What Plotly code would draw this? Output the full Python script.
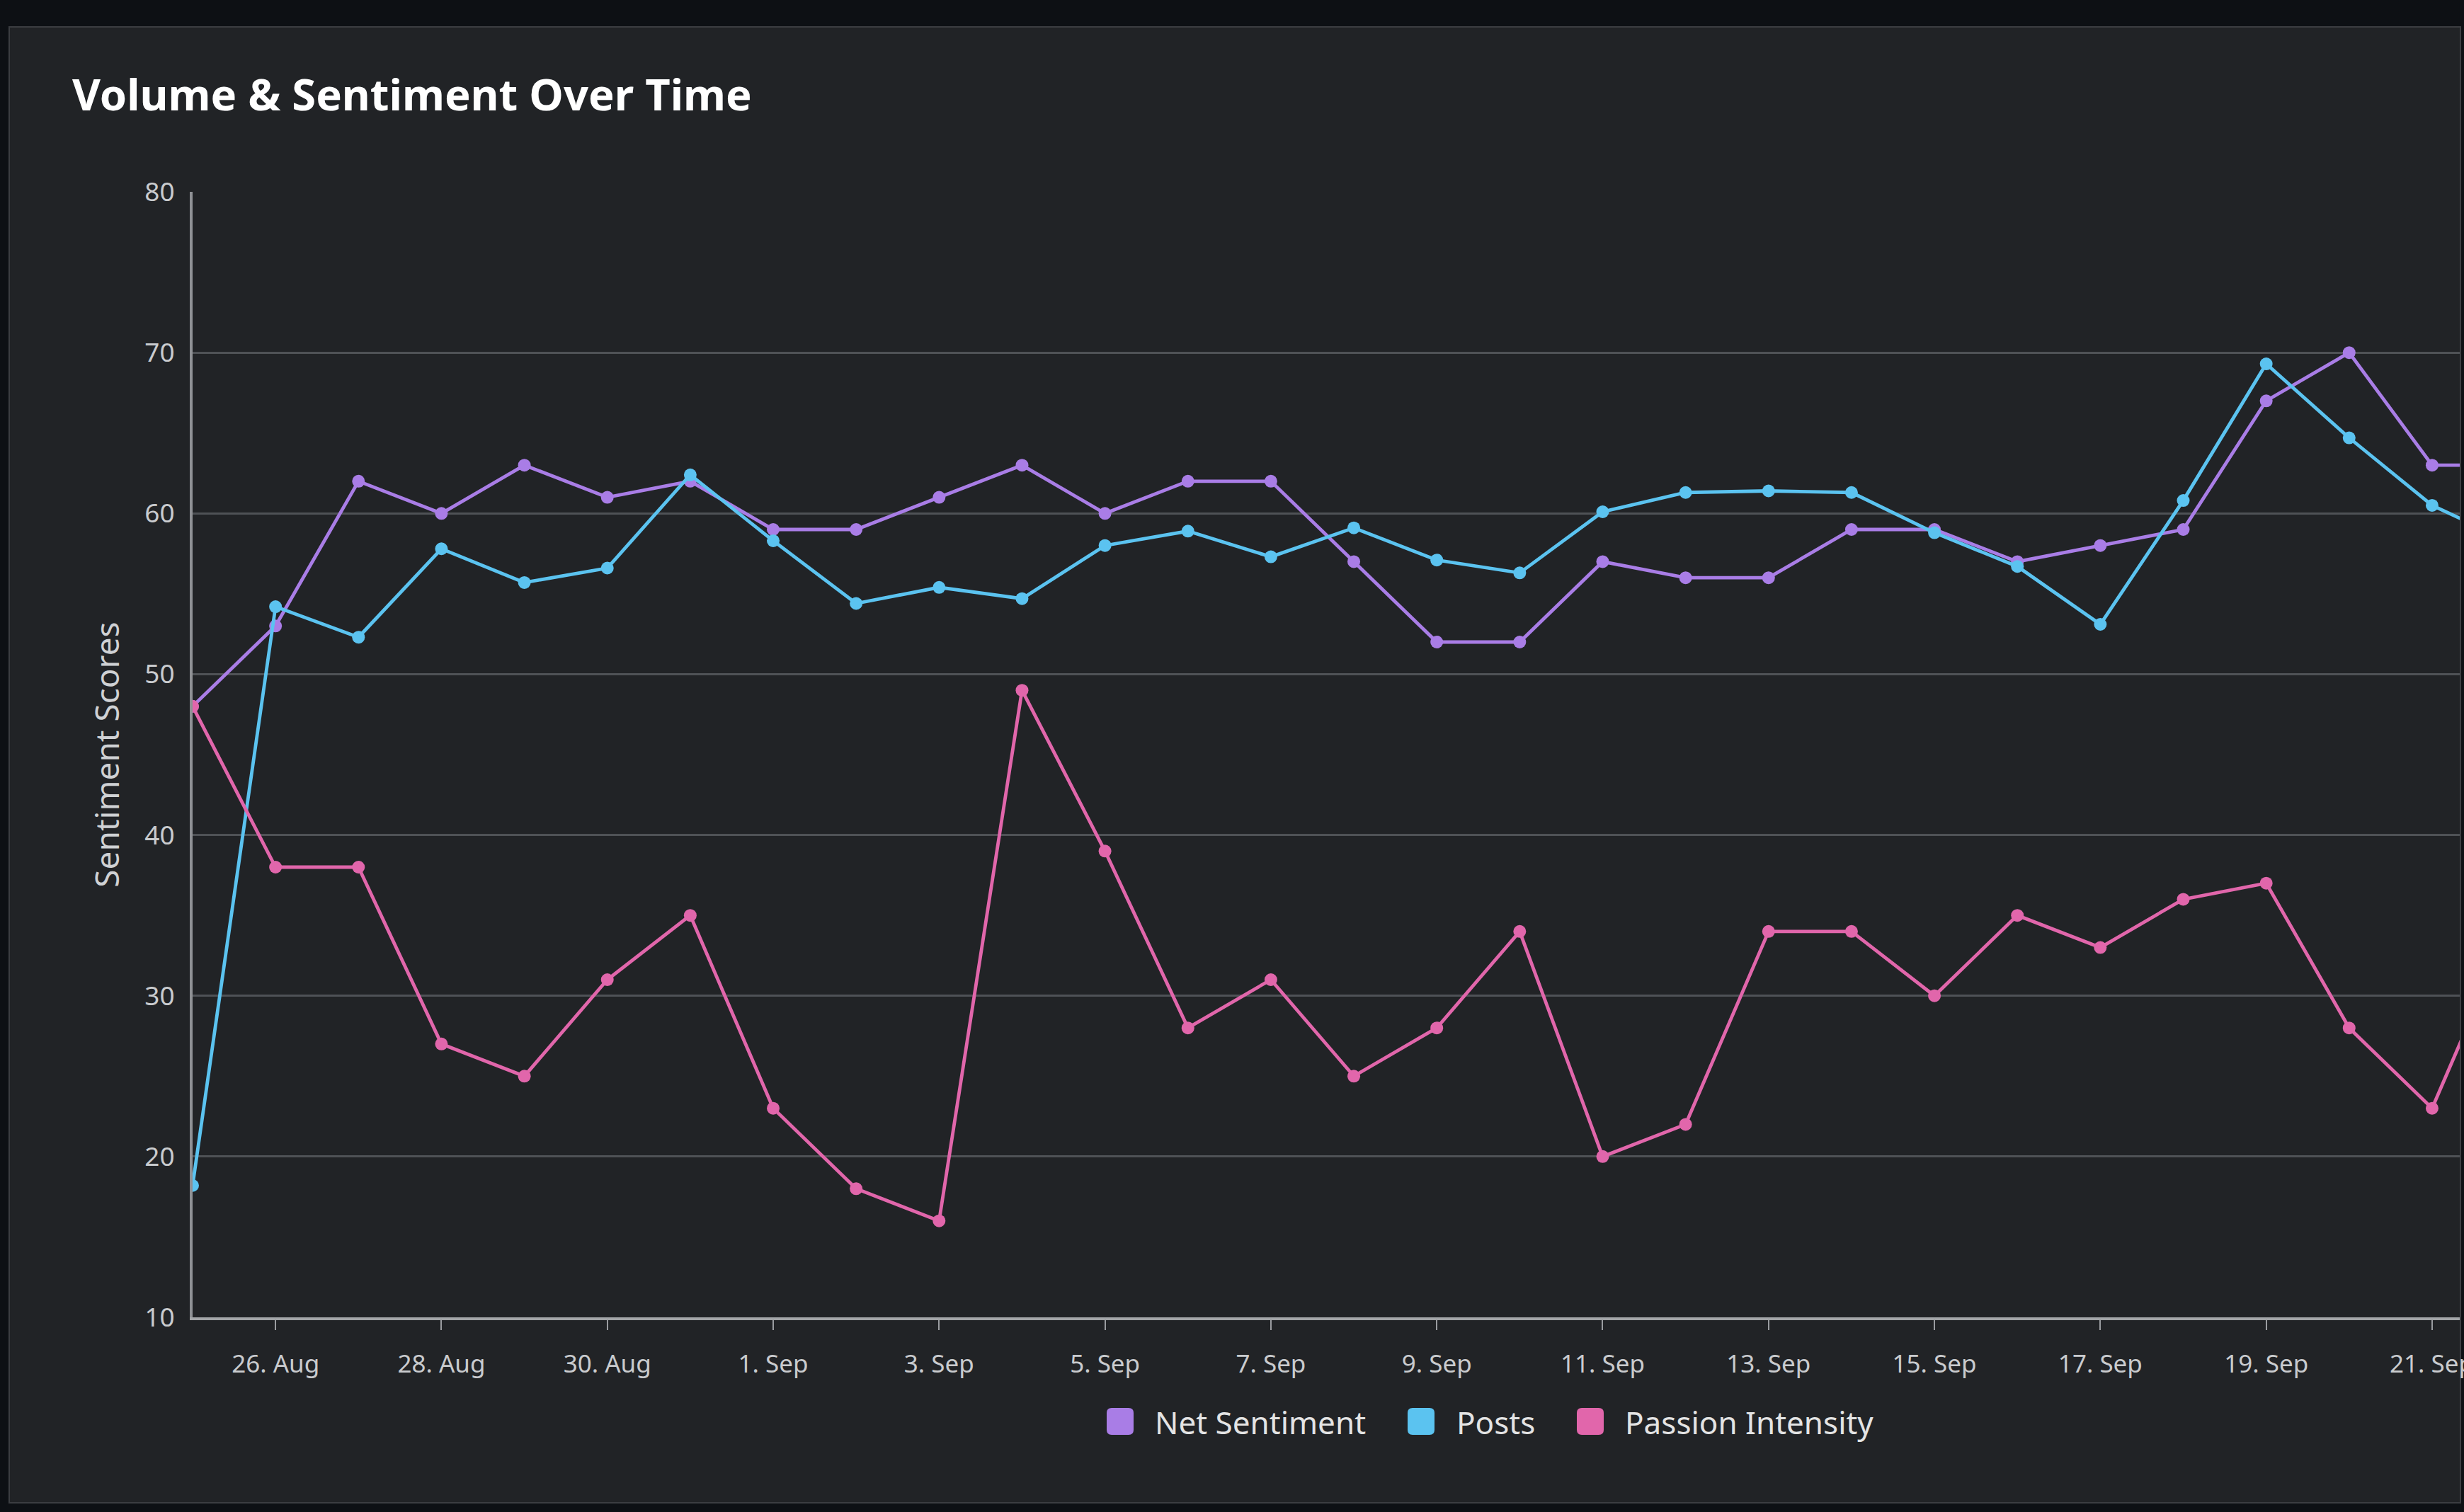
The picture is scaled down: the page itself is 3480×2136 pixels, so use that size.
import plotly.graph_objects as go
import pandas as pd

# ---------------- data ----------------
dates = pd.date_range("2024-08-25", "2024-09-22", freq="D")
net_sentiment = [48, 53, 62, 60, 63, 61, 62,
                 59, 59, 61, 63, 60, 62, 62, 57, 52, 52,
                 57, 56, 56, 59, 59, 57, 58, 59, 67, 70,
                 63, 63]
posts = [18.2, 54.2, 52.3, 57.8, 55.7, 56.6, 62.4,
         58.3, 54.4, 55.4, 54.7, 58.0, 58.9, 57.3, 59.1, 57.1, 56.3,
         60.1, 61.3, 61.4, 61.3, 58.8, 56.7, 53.1, 60.8, 69.3, 64.7,
         60.5, 58.1]
passion_intensity = [48, 38, 38, 27, 25, 31, 35,
                     23, 18, 16, 49, 39, 28, 31, 25, 28, 34,
                     20, 22, 34, 34, 30, 35, 33, 36, 37, 28,
                     23, 35]
series_names = ["Net Sentiment", "Posts", "Passion Intensity"]
series_colors = ["#a97de6", "#5bc3f0", "#e166ab"]
y_ticks = [10, 20, 30, 40, 50, 60, 70, 80]
edge_tick_date = "2024-09-21"      # last x tick, whose label is cut by the card edge
edge_tick_label = "21. Sep"

# ---------------- layout geometry (pixels) ----------------
W, H = 3480, 2136
L, R, T, B = 272, 6, 271, 275
PW, PH = W - L - R, H - T - B
FONT = "Noto Sans"
TICK_FONT = dict(family=FONT, size=35, color="#c9cbce")


def px(xp):
    return (xp - L) / PW


def py(yp):
    return (H - B - yp) / PH


fig = go.Figure()
for name, vals, col in zip(series_names, [net_sentiment, posts, passion_intensity], series_colors):
    fig.add_trace(go.Scatter(
        x=dates, y=vals, name=name, mode="lines+markers",
        line=dict(color=col, width=4.8),
        marker=dict(color=col, size=18),
        showlegend=False, cliponaxis=True,
    ))

shapes = []
# card background
shapes.append(dict(type="rect", xref="paper", yref="paper", layer="below",
                   x0=px(13), x1=px(3475), y0=py(2123), y1=py(38),
                   fillcolor="#212326", line=dict(color="#3b3d41", width=2)))


def rrect(x0, y0, s, r):
    # rounded square given in pixel coords -> paper-coordinate SVG path
    X = lambda v: px(v)
    Y = lambda v: py(v)
    return (f"M{X(x0 + r)},{Y(y0)} L{X(x0 + s - r)},{Y(y0)} Q{X(x0 + s)},{Y(y0)} {X(x0 + s)},{Y(y0 + r)} "
            f"L{X(x0 + s)},{Y(y0 + s - r)} Q{X(x0 + s)},{Y(y0 + s)} {X(x0 + s - r)},{Y(y0 + s)} "
            f"L{X(x0 + r)},{Y(y0 + s)} Q{X(x0)},{Y(y0 + s)} {X(x0)},{Y(y0 + s - r)} "
            f"L{X(x0)},{Y(y0 + r)} Q{X(x0)},{Y(y0)} {X(x0 + r)},{Y(y0)} Z")


legend_sq_x = [1563, 1988, 2227]
legend_tx_x = [1629, 2055, 2293]
legend_cy = 2008
annotations = []
for name, col, sx, tx in zip(series_names, series_colors, legend_sq_x, legend_tx_x):
    shapes.append(dict(type="path", xref="paper", yref="paper", path=rrect(sx, legend_cy - 19, 38, 7),
                       fillcolor=col, line=dict(width=0)))
    annotations.append(dict(xref="paper", yref="paper", x=px(tx), y=py(legend_cy + 1),
                            xanchor="left", yanchor="middle", showarrow=False,
                            text=name, font=dict(family=FONT, size=44, color="#e4e4e4")))

# label of the last tick, which overflows the right edge of the chart card
annotations.append(dict(xref="x", yref="paper", x=edge_tick_date, y=py(1925),
                        xanchor="center", yanchor="middle", showarrow=False,
                        text=edge_tick_label, font=TICK_FONT))

fig.update_layout(
    width=W, height=H,
    margin=dict(l=L, r=R, t=T, b=B, pad=0),
    paper_bgcolor="#0d1014",
    plot_bgcolor="rgba(0,0,0,0)",
    title=dict(text="<b>Volume & Sentiment Over Time</b>",
               x=102 / W, xanchor="left", xref="container",
               y=1 - 134 / H, yanchor="middle", yref="container",
               font=dict(family=FONT, size=61.5, color="#ffffff")),
    shapes=shapes,
    annotations=annotations,
    showlegend=False,
    hovermode=False,
)

fig.update_xaxes(
    type="date",
    range=["2024-08-25 00:00", "2024-09-21 08:00"],
    tick0="2024-08-26", dtick=2 * 86400000,
    tickformat="%-d. %b",
    ticks="outside", ticklen=14, tickwidth=2, tickcolor="#9a9ca0",
    ticklabelstandoff=18,
    showline=True, linecolor="#a3a5a8", linewidth=4,
    showgrid=False, zeroline=False,
    tickfont=TICK_FONT,
)
fig.update_yaxes(
    range=[10, 80], tickvals=y_ticks,
    showline=True, linecolor="#8f9195", linewidth=4,
    showgrid=True, gridcolor="#4f5256", gridwidth=3,
    zeroline=False, ticks="",
    ticklabelstandoff=14,
    tickfont=dict(family=FONT, size=37, color="#c9cbce"),
    title=dict(text="Sentiment Scores", standoff=22,
               font=dict(family=FONT, size=46, color="#cfd1d4")),
)

fig.write_html("out.html", config={"displayModeBar": False},
               post_script="document.body.style.margin='0';document.body.style.overflow='hidden';")
